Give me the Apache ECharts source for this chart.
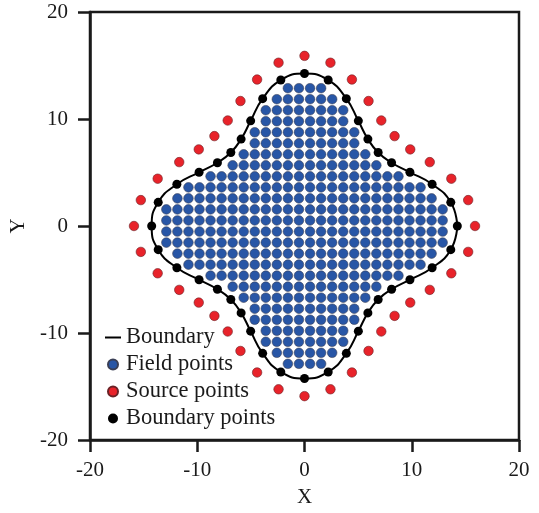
<!DOCTYPE html>
<html>
<head>
<meta charset="utf-8">
<script src="https://cdn.jsdelivr.net/npm/echarts@6/dist/echarts.min.js"></script>
<style>
  html, body { margin: 0; padding: 0; background: #fff; }
  #chart { width: 539px; height: 513px; }
</style>
</head>
<body>
<div id="chart"></div>
<script>
// Axis ticks
const axisTicks = [-20, -10, 0, 10, 20];

// Field-point grid coordinates (same set used along X and Y)
const gridPos = [-12.88, -11.85, -10.82, -9.79, -8.76, -7.73, -6.70, -5.67, -4.64, -3.61, -2.58, -1.55, -0.52,
                 0.52, 1.55, 2.58, 3.61, 4.64, 5.67, 6.70, 7.73, 8.76, 9.79, 10.82, 11.85, 12.88];
// Number of field points on each side of X = 0, per row from top to bottom
const fieldRowHalfCount = [2, 3, 4, 4, 5, 5, 6, 7, 9, 11, 12, 13, 13,
                           13, 13, 12, 11, 9, 7, 6, 5, 5, 4, 4, 3, 2];

// Boundary points, counter-clockwise from the positive X axis
const boundaryX = [14.25, 13.64, 11.90, 9.83, 8.12, 6.87, 5.91, 5.02, 3.90, 2.21,
                   0, -2.21, -3.90, -5.02, -5.91, -6.87, -8.12, -9.83, -11.90, -13.64,
                   -14.25, -13.64, -11.90, -9.83, -8.12, -6.87, -5.91, -5.02, -3.90, -2.21,
                   0, 2.21, 3.90, 5.02, 5.91, 6.87, 8.12, 9.83, 11.90, 13.64];
const boundaryY = [0, 2.21, 3.90, 5.02, 5.91, 6.87, 8.12, 9.83, 11.90, 13.64,
                   14.25, 13.64, 11.90, 9.83, 8.12, 6.87, 5.91, 5.02, 3.90, 2.21,
                   0, -2.21, -3.90, -5.02, -5.91, -6.87, -8.12, -9.83, -11.90, -13.64,
                   -14.25, -13.64, -11.90, -9.83, -8.12, -6.87, -5.91, -5.02, -3.90, -2.21];

// Source points, counter-clockwise from the positive X axis
const sourceX = [15.90, 15.26, 13.69, 11.68, 9.86, 8.40, 7.16, 5.97, 4.42, 2.42,
                 0, -2.42, -4.42, -5.97, -7.16, -8.40, -9.86, -11.68, -13.69, -15.26,
                 -15.90, -15.26, -13.69, -11.68, -9.86, -8.40, -7.16, -5.97, -4.42, -2.42,
                 0, 2.42, 4.42, 5.97, 7.16, 8.40, 9.86, 11.68, 13.69, 15.26];
const sourceY = [0, 2.42, 4.42, 5.97, 7.16, 8.40, 9.86, 11.68, 13.69, 15.26,
                 15.90, 15.26, 13.69, 11.68, 9.86, 8.40, 7.16, 5.97, 4.42, 2.42,
                 0, -2.42, -4.42, -5.97, -7.16, -8.40, -9.86, -11.68, -13.69, -15.26,
                 -15.90, -15.26, -13.69, -11.68, -9.86, -8.40, -7.16, -5.97, -4.42, -2.42];

const seriesNames = ['Boundary', 'Field points', 'Source points', 'Boundary points'];

// Build point tables
const fieldData = [];
const nRows = gridPos.length;
const mid = nRows / 2;
fieldRowHalfCount.forEach((h, r) => {
  const y = gridPos[nRows - 1 - r];
  for (let c = mid - h; c < mid + h; c++) fieldData.push([gridPos[c], y]);
});
const boundaryData = boundaryX.map((x, i) => [x, boundaryY[i]]);
const sourceData = sourceX.map((x, i) => [x, sourceY[i]]);
const boundaryLoop = boundaryData.concat([boundaryData[0]]);

const FONT = '"Liberation Serif", "Times New Roman", serif';
const INK = '#1a1a1a';

const axisCommon = {
  min: -20, max: 20, interval: 10,
  axisLine: { onZero: false, lineStyle: { color: INK, width: 2.5 } },
  axisTick: { show: true, inside: false, length: 12, lineStyle: { color: INK, width: 2.5 } },
  splitLine: { show: false },
  nameLocation: 'middle',
  nameTextStyle: { fontFamily: FONT, fontSize: 21, color: INK },
  axisLabel: { fontFamily: FONT, fontSize: 21, color: INK,
               customValues: axisTicks }
};

const chart = echarts.init(document.getElementById('chart'), null, { renderer: 'canvas' });
chart.setOption({
  animation: false,
  backgroundColor: '#fff',
  grid: { left: 90, right: 20, top: 12, bottom: 72, show: true,
          borderColor: INK, borderWidth: 2.5, backgroundColor: 'transparent' },
  xAxis: Object.assign({}, axisCommon, {
    type: 'value', name: 'X', nameGap: 47,
    axisLabel: Object.assign({}, axisCommon.axisLabel, { margin: 20 })
  }),
  yAxis: Object.assign({}, axisCommon, {
    type: 'value', name: 'Y', nameGap: 53, nameRotate: 90,
    axisLabel: Object.assign({}, axisCommon.axisLabel, { margin: 22 })
  }),
  legend: {
    orient: 'vertical', left: 105, top: 326, itemGap: 4, padding: 0,
    itemWidth: 16, itemHeight: 10,
    textStyle: { fontFamily: FONT, fontSize: 22.5, color: INK },
    data: [
      { name: seriesNames[0], icon: 'path://M0,0h16v2h-16z' },
      { name: seriesNames[1], icon: 'circle' },
      { name: seriesNames[2], icon: 'circle' },
      { name: seriesNames[3], icon: 'circle' }
    ]
  },
  series: [
    {
      name: seriesNames[0], type: 'line', data: boundaryLoop,
      smooth: 0.5, symbol: 'none',
      lineStyle: { color: '#000', width: 2 }, itemStyle: { color: '#000' }, z: 2
    },
    {
      name: seriesNames[1], type: 'scatter', data: fieldData, symbolSize: 9.6,
      itemStyle: { color: '#2856a6', borderColor: '#3a3f55', borderWidth: 0.6, opacity: 1 }, z: 3
    },
    {
      name: seriesNames[2], type: 'scatter', data: sourceData, symbolSize: 9.5,
      itemStyle: { color: '#e8232a', borderColor: '#6a2226', borderWidth: 0.6, opacity: 1 }, z: 3
    },
    {
      name: seriesNames[3], type: 'scatter', data: boundaryData, symbolSize: 9,
      itemStyle: { color: '#000', opacity: 1 }, z: 4
    }
  ]
});
</script>
</body>
</html>
